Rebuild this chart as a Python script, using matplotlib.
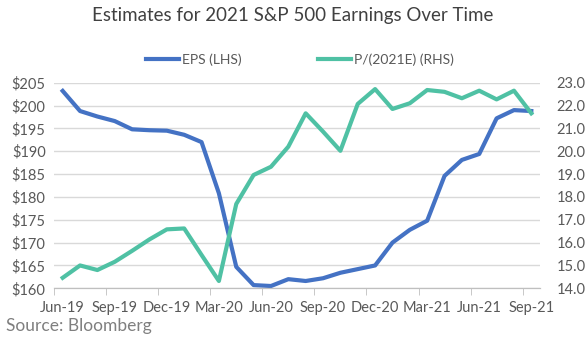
import matplotlib.pyplot as plt
import numpy as np

months = ["Jun-19", "Jul-19", "Aug-19", "Sep-19", "Oct-19", "Nov-19", "Dec-19",
          "Jan-20", "Feb-20", "Mar-20", "Apr-20", "May-20", "Jun-20", "Jul-20",
          "Aug-20", "Sep-20", "Oct-20", "Nov-20", "Dec-20", "Jan-21", "Feb-21",
          "Mar-21", "Apr-21", "May-21", "Jun-21", "Jul-21", "Aug-21", "Sep-21"]
eps = [203.2, 198.8, 197.6, 196.6, 194.8, 194.6, 194.5, 193.6, 192.0, 180.8,
       164.7, 160.7, 160.5, 162.0, 161.6, 162.2, 163.4, 164.2, 165.0, 170.0,
       172.8, 174.8, 184.6, 188.1, 189.4, 197.2, 199.0, 198.8]
pe = [14.46, 15.0, 14.8, 15.16, 15.64, 16.14, 16.58, 16.62, 15.46, 14.32,
      17.69, 18.96, 19.32, 20.2, 21.66, 20.86, 20.02, 22.07, 22.72, 21.85,
      22.1, 22.68, 22.6, 22.32, 22.65, 22.27, 22.65, 21.66]

plt.rcParams['font.family'] = ['Lato', 'DejaVu Sans']
txt = '#595959'
blue = '#4472C4'
green = '#4FC1A4'

fig = plt.figure(figsize=(5.86, 3.44), dpi=100)
ax = fig.add_axes([54/586, 55.7/344, 486/586, 205.6/344])
ax2 = ax.twinx()

x = np.arange(len(months))
ax.plot(x, eps, color=blue, lw=3, label='EPS (LHS)', solid_joinstyle='round')
ax2.plot(x, pe, color=green, lw=3, label='P/(2021E) (RHS)', solid_joinstyle='round')

ax.set_xlim(-0.5, len(months) - 0.5)
ax.set_ylim(160, 205)
ax.set_yticks(range(160, 206, 5))
ax.set_yticklabels(['$%d' % v for v in range(160, 206, 5)])
ax2.set_ylim(14, 23)
ax2.set_yticks(range(14, 24))
ax2.set_yticklabels(['%.1f' % v for v in range(14, 24)])

# labels centred on every third month, ticks on the boundaries
ax.set_xticks(x[::3])
ax.set_xticklabels(months[::3])
ax.set_xticks(np.arange(-0.5, len(months) - 0.5, 3), minor=True)
ax.tick_params(axis='x', which='major', length=0, pad=9, labelsize=10.5, labelcolor=txt)
ax.tick_params(axis='x', which='minor', length=5, color='#BFBFBF', direction='out')
ax.tick_params(axis='y', length=0, pad=6, labelsize=10.5, labelcolor=txt)
ax2.tick_params(axis='y', length=0, pad=12, labelsize=10.5, labelcolor=txt)

ax.grid(axis='y', color='#D9D9D9', lw=1)
ax.set_axisbelow(True)
for a in (ax, ax2):
    for s in ['top', 'left', 'right']:
        a.spines[s].set_visible(False)
    a.spines['bottom'].set_color('#BFBFBF')

h1, l1 = ax.get_legend_handles_labels()
h2, l2 = ax2.get_legend_handles_labels()
fig.legend(h1 + h2, l1 + l2, ncol=2, loc='center', bbox_to_anchor=(300/586, 1 - 60/344),
           frameon=False, fontsize=10, labelcolor=txt, handlelength=2.4,
           handletextpad=0.2, columnspacing=5.5)

fig.text(0.5, 1 - 16/344, 'Estimates for 2021 S&P 500 Earnings Over Time', ha='center',
         va='center', fontsize=13.5, color='#404040')
fig.text(6/586, 1 - 326/344, 'Source: Bloomberg', ha='left', va='center',
         fontsize=12.5, color='#7F7F7F')

fig.savefig('out.png', dpi=100)
